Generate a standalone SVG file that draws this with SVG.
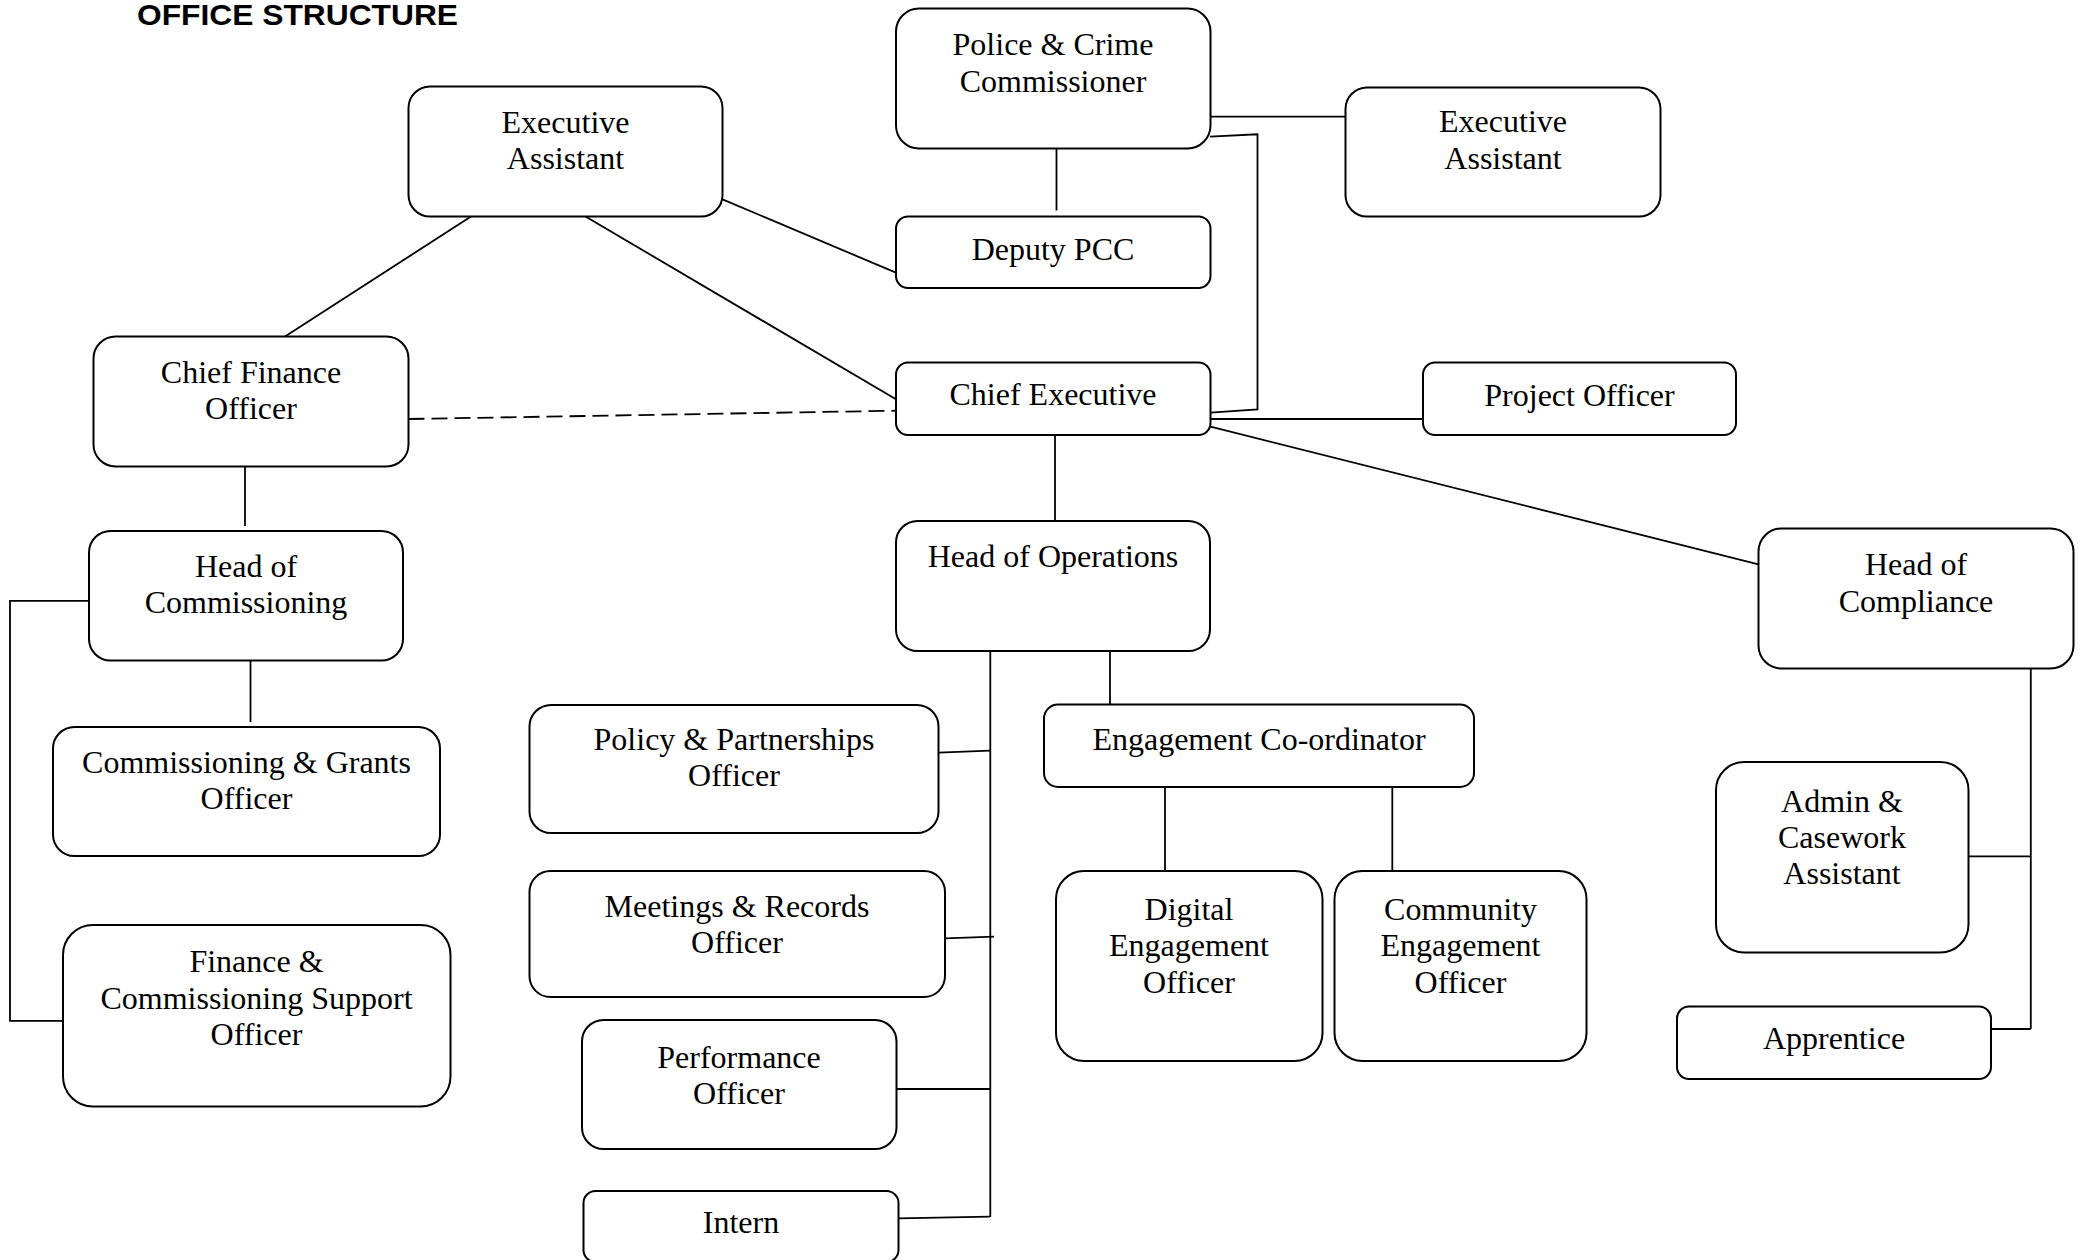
<svg xmlns="http://www.w3.org/2000/svg" width="2082" height="1260" viewBox="0 0 2082 1260">
<style>
.box{fill:#fff;stroke:#000;stroke-width:2}
.lbl{font-family:"Liberation Serif","Times New Roman",serif;font-size:32px;fill:#000;text-anchor:middle}
.ln{fill:none;stroke:#000;stroke-width:1.8}
.dash{stroke-dasharray:16 7}
.title{font-family:"Liberation Sans",Arial,sans-serif;font-weight:bold;font-size:30px;fill:#000}
</style>
<rect width="2082" height="1260" fill="#fff"/>
<text class="title" x="137" y="25" textLength="321" lengthAdjust="spacingAndGlyphs">OFFICE STRUCTURE</text>
<g id="connectors">
<path class="ln" d="M1056.5 149 V210.5"/>
<path class="ln" d="M1210.5 116.7 H1345.5"/>
<path class="ln" d="M1210 136.7 L1257.5 134.3 L1257.5 409.3 L1210.5 412.7"/>
<path class="ln" d="M1210.5 419 H1423"/>
<path class="ln" d="M1210.5 426.7 L1758.5 564.3"/>
<path class="ln" d="M1055 435 V521"/>
<path class="ln" d="M722.5 199.3 L896 272.7"/>
<path class="ln" d="M585.5 216.5 L896 399.3"/>
<path class="ln" d="M471 216.5 L285 336.5"/>
<path class="ln dash" d="M408.5 419 L896 410.7"/>
<path class="ln" d="M245 466.5 V526"/>
<path class="ln" d="M250.5 660.5 V722"/>
<path class="ln" d="M93.5 600.8 H10 V1020.8 H63"/>
<path class="ln" d="M990.3 650.6 V1217"/>
<path class="ln" d="M938.5 752.7 L990 750.7"/>
<path class="ln" d="M945 938.3 L994 936.7"/>
<path class="ln" d="M896.5 1089 H990"/>
<path class="ln" d="M898.5 1218.3 L990 1216.7"/>
<path class="ln" d="M1110 650.6 V704.5"/>
<path class="ln" d="M1165 787 V871"/>
<path class="ln" d="M1392.3 787 V871"/>
<path class="ln" d="M2030.8 666.7 V1029"/>
<path class="ln" d="M1968.5 856.3 H2030.8"/>
<path class="ln" d="M1991 1029 H2030.8"/>
</g>
<g id="pcc"><rect class="box" x="896" y="8.5" width="314.5" height="140" rx="23"/><text class="lbl" x="1053" y="54.5">Police &amp; Crime</text><text class="lbl" x="1053" y="91.5">Commissioner</text></g>
<g id="ea-right"><rect class="box" x="1345.5" y="87.5" width="315" height="129" rx="21.5"/><text class="lbl" x="1503" y="132">Executive</text><text class="lbl" x="1503" y="168.5">Assistant</text></g>
<g id="ea-left"><rect class="box" x="408.5" y="86.5" width="314" height="130" rx="21.5"/><text class="lbl" x="565.5" y="132.5">Executive</text><text class="lbl" x="565.5" y="168.5">Assistant</text></g>
<g id="deputy-pcc"><rect class="box" x="896" y="216.5" width="314.5" height="71.5" rx="12"/><text class="lbl" x="1053" y="259.5">Deputy PCC</text></g>
<g id="chief-executive"><rect class="box" x="896" y="362.5" width="314.5" height="72.5" rx="12"/><text class="lbl" x="1053" y="405">Chief Executive</text></g>
<g id="project-officer"><rect class="box" x="1423" y="362.5" width="313" height="72.5" rx="12"/><text class="lbl" x="1579.5" y="406">Project Officer</text></g>
<g id="cfo"><rect class="box" x="93.5" y="336.5" width="315" height="130" rx="22"/><text class="lbl" x="251" y="382.5">Chief Finance</text><text class="lbl" x="251" y="418.5">Officer</text></g>
<g id="head-commissioning"><rect class="box" x="89" y="531" width="314" height="129.5" rx="21.5"/><text class="lbl" x="246" y="576.5">Head of</text><text class="lbl" x="246" y="612.5">Commissioning</text></g>
<g id="commissioning-grants"><rect class="box" x="53" y="727" width="387" height="129" rx="21.5"/><text class="lbl" x="246.5" y="773">Commissioning &amp; Grants</text><text class="lbl" x="246.5" y="809">Officer</text></g>
<g id="finance-support"><rect class="box" x="63" y="925" width="387.5" height="181.5" rx="30"/><text class="lbl" x="256.5" y="972">Finance &amp;</text><text class="lbl" x="256.5" y="1008.5">Commissioning Support</text><text class="lbl" x="256.5" y="1045">Officer</text></g>
<g id="head-operations"><rect class="box" x="896" y="521" width="314" height="130" rx="21.5"/><text class="lbl" x="1053" y="567">Head of Operations</text></g>
<g id="policy"><rect class="box" x="529.5" y="705" width="409" height="128" rx="21.5"/><text class="lbl" x="734" y="750">Policy &amp; Partnerships</text><text class="lbl" x="734" y="786">Officer</text></g>
<g id="meetings"><rect class="box" x="529.5" y="871" width="415.5" height="126" rx="21"/><text class="lbl" x="737" y="916.5">Meetings &amp; Records</text><text class="lbl" x="737" y="952.5">Officer</text></g>
<g id="performance"><rect class="box" x="582" y="1020" width="314.5" height="129" rx="21.5"/><text class="lbl" x="739" y="1067.5">Performance</text><text class="lbl" x="739" y="1104">Officer</text></g>
<g id="intern"><rect class="box" x="583.5" y="1191" width="315" height="71" rx="12"/><text class="lbl" x="741" y="1233">Intern</text></g>
<g id="engagement-coordinator"><rect class="box" x="1044" y="704.5" width="430" height="82.5" rx="14"/><text class="lbl" x="1259" y="749.5">Engagement Co-ordinator</text></g>
<g id="digital"><rect class="box" x="1056" y="871" width="266.5" height="190" rx="28"/><text class="lbl" x="1189" y="920">Digital</text><text class="lbl" x="1189" y="956">Engagement</text><text class="lbl" x="1189" y="992.5">Officer</text></g>
<g id="community"><rect class="box" x="1334.5" y="871" width="252" height="190" rx="28"/><text class="lbl" x="1460.5" y="920">Community</text><text class="lbl" x="1460.5" y="956">Engagement</text><text class="lbl" x="1460.5" y="992.5">Officer</text></g>
<g id="head-compliance"><rect class="box" x="1758.5" y="528.5" width="315" height="140" rx="23"/><text class="lbl" x="1916" y="574.5">Head of</text><text class="lbl" x="1916" y="611.5">Compliance</text></g>
<g id="admin-casework"><rect class="box" x="1716" y="762" width="252.5" height="190.5" rx="28"/><text class="lbl" x="1842" y="811.5">Admin &amp;</text><text class="lbl" x="1842" y="847.5">Casework</text><text class="lbl" x="1842" y="884">Assistant</text></g>
<g id="apprentice"><rect class="box" x="1677" y="1006.5" width="314" height="72.5" rx="12"/><text class="lbl" x="1834" y="1048.5">Apprentice</text></g>
</svg>
